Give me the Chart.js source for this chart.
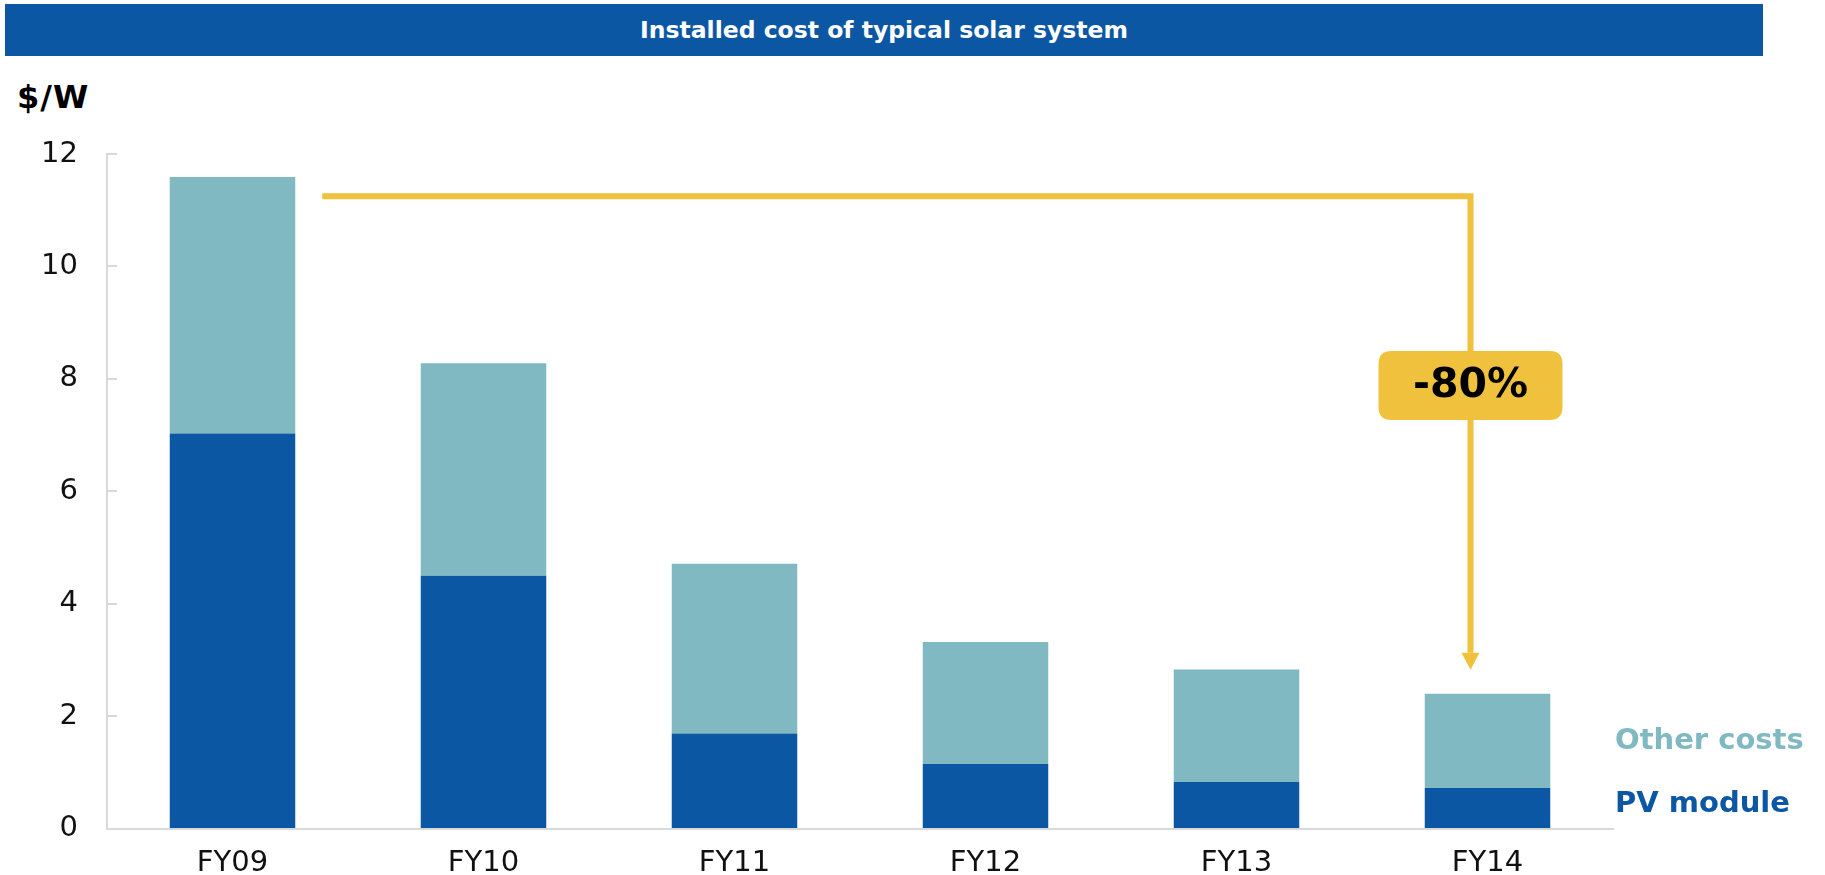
<!DOCTYPE html>
<html>
<head>
<meta charset="utf-8">
<script src="https://cdn.jsdelivr.net/npm/chart.js@4"></script>
<style>
  body { margin: 0; background: #fff; overflow: hidden; }
  #wrap { position: relative; width: 1825px; height: 875px; }
  #titlebar {
    position: absolute; left: 5px; top: 4px; width: 1758px; height: 52px;
    background: #0b57a4; color: #fff; font: bold 23.5px "DejaVu Sans", sans-serif;
    text-align: center; line-height: 52px;
  }
  #unit {
    position: absolute; left: 17px; top: 78px;
    font: bold 32px "DejaVu Sans", sans-serif; color: #000; letter-spacing: 1px;
  }
  #grafico { position: absolute; left: 0; top: 0; }
</style>
</head>
<body>
<div id="wrap">
  <div id="titlebar">Installed cost of typical solar system</div>
  <div id="unit">$/W</div>
  <canvas id="grafico" width="1825" height="875"></canvas>
</div>
<script>
// valores ($/W)
var anos = ["FY09", "FY10", "FY11", "FY12", "FY13", "FY14"];
var pvModule = [7.03, 4.50, 1.69, 1.15, 0.83, 0.72];
var outrosCustos = [4.56, 3.78, 3.02, 2.17, 2.00, 1.68];
var yTicks = [0, 2, 4, 6, 8, 10, 12];
var queda = "-80%";

var corPV = "#0b57a4";
var corOutros = "#80b9c1";
var corAmarelo = "#efc13d";
var corEixo = "#d9d9d9";

// marcas pequenas do eixo y, para dentro
var ticksDentro = {
  id: "ticksDentro",
  afterDraw: function(chart) {
    var ctx = chart.ctx;
    var y = chart.scales.y;
    var left = chart.chartArea.left;
    ctx.save();
    ctx.strokeStyle = corEixo;
    ctx.lineWidth = 2;
    yTicks.forEach(function(v) {
      var py = Math.round(y.getPixelForValue(v));
      ctx.beginPath();
      ctx.moveTo(left, py);
      ctx.lineTo(left + 10, py);
      ctx.stroke();
    });
    ctx.restore();
  }
};

// seta amarela + caixa -80% + legenda a direita
var anotacao = {
  id: "anotacao",
  afterDatasetsDraw: function(chart) {
    var ctx = chart.ctx;
    var y = chart.scales.y;
    var topo = chart.getDatasetMeta(1).data;
    var primeiro = topo[0];
    var ultimo = topo[topo.length - 1];

    var x0 = primeiro.x + primeiro.width / 2 + 27;
    var yLinha = y.getPixelForValue(11.25);
    var xFim = ultimo.x - 17;
    var ponta = ultimo.y - 24;
    var seta = 17;

    ctx.save();
    ctx.strokeStyle = corAmarelo;
    ctx.fillStyle = corAmarelo;
    ctx.lineWidth = 6;
    ctx.lineJoin = "miter";
    ctx.beginPath();
    ctx.moveTo(x0, yLinha);
    ctx.lineTo(xFim, yLinha);
    ctx.lineTo(xFim, ponta - seta);
    ctx.stroke();

    ctx.beginPath();
    ctx.moveTo(xFim - 9, ponta - seta);
    ctx.lineTo(xFim + 9, ponta - seta);
    ctx.lineTo(xFim, ponta);
    ctx.closePath();
    ctx.fill();

    // caixa
    var cy = y.getPixelForValue(7.88);
    var w = 184, h = 69, r = 13;
    var bx = xFim - w / 2, by = cy - h / 2;
    ctx.beginPath();
    ctx.moveTo(bx + r, by);
    ctx.lineTo(bx + w - r, by);
    ctx.quadraticCurveTo(bx + w, by, bx + w, by + r);
    ctx.lineTo(bx + w, by + h - r);
    ctx.quadraticCurveTo(bx + w, by + h, bx + w - r, by + h);
    ctx.lineTo(bx + r, by + h);
    ctx.quadraticCurveTo(bx, by + h, bx, by + h - r);
    ctx.lineTo(bx, by + r);
    ctx.quadraticCurveTo(bx, by, bx + r, by);
    ctx.fill();

    ctx.fillStyle = "#000";
    ctx.font = "bold 41px 'DejaVu Sans', sans-serif";
    ctx.textAlign = "center";
    ctx.textBaseline = "middle";
    ctx.fillText(queda, xFim, cy + 1);

    // legenda
    var lx = chart.chartArea.right + 2;
    ctx.textAlign = "left";
    ctx.font = "bold 29px 'DejaVu Sans', sans-serif";
    ctx.fillStyle = corOutros;
    ctx.fillText(chart.data.datasets[1].label, lx, 741);
    ctx.fillStyle = corPV;
    ctx.fillText(chart.data.datasets[0].label, lx, 804);
    ctx.restore();
  }
};

var ctx = document.getElementById("grafico").getContext("2d");
var myChart = new Chart(ctx, {
  type: "bar",
  data: {
    labels: anos,
    datasets: [
      {
        label: "PV module",
        data: pvModule,
        backgroundColor: corPV,
        borderWidth: 0,
        barPercentage: 0.5,
        categoryPercentage: 1.0
      },
      {
        label: "Other costs",
        data: outrosCustos,
        backgroundColor: corOutros,
        borderWidth: 0,
        barPercentage: 0.5,
        categoryPercentage: 1.0
      }
    ]
  },
  options: {
    responsive: false,
    animation: false,
    layout: { padding: { left: 0, right: 212, top: 154, bottom: 0 } },
    plugins: {
      legend: { display: false },
      title: { display: false },
      tooltip: { enabled: false }
    },
    scales: {
      x: {
        stacked: true,
        grid: { display: false, drawTicks: false },
        border: { display: true, color: corEixo, width: 2 },
        ticks: {
          color: "#111",
          font: { family: "'DejaVu Sans', sans-serif", size: 29 },
          padding: 17
        },
        afterFit: function(scale) { scale.height = 46; }
      },
      y: {
        stacked: true,
        min: 0,
        max: 12,
        grid: { drawOnChartArea: false, drawTicks: false },
        border: { display: true, color: corEixo, width: 2 },
        ticks: {
          stepSize: 2,
          color: "#111",
          font: { family: "'DejaVu Sans', sans-serif", size: 29 },
          padding: 29
        },
        afterFit: function(scale) { scale.width = 107; }
      }
    }
  },
  plugins: [ticksDentro, anotacao]
});
</script>
</body>
</html>
